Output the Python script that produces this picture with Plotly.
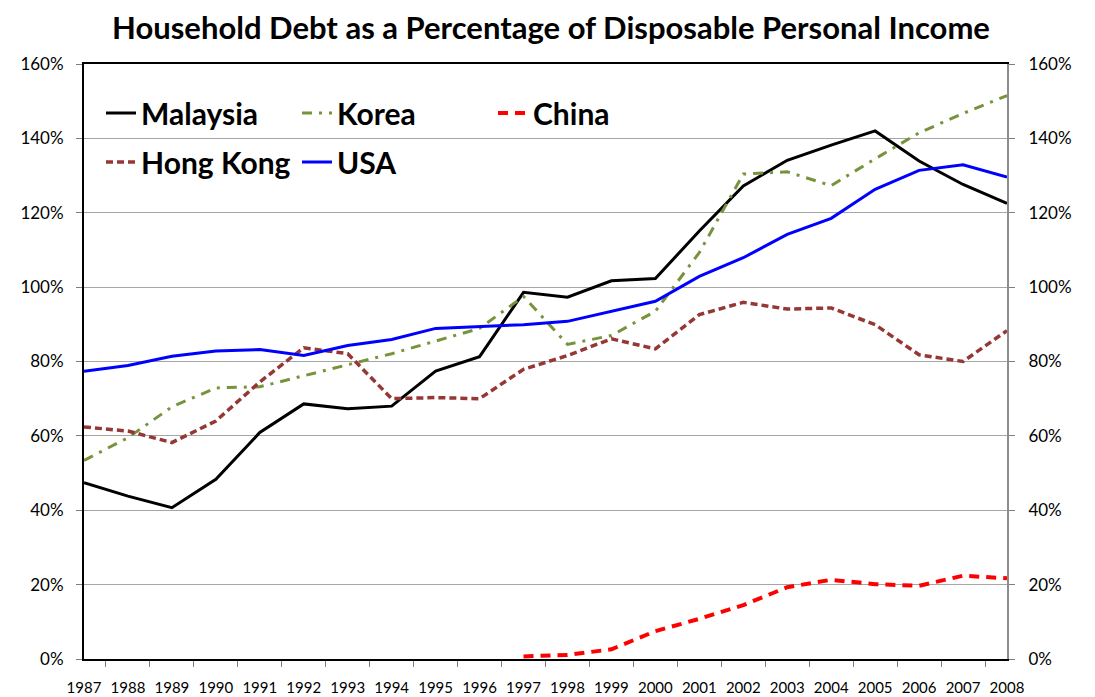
import plotly.graph_objects as go

years = [str(y) for y in range(1987, 2009)]

malaysia = [47.4, 43.8, 40.7, 48.3, 60.9, 68.6, 67.3, 68.0, 77.4, 81.3, 98.6, 97.3,
            101.7, 102.3, 115.1, 127.2, 134.1, 138.2, 142.0, 133.9, 127.6, 122.5]
korea = [53.4, 59.5, 67.8, 72.9, 73.2, 76.2, 79.2, 82.1, 85.5, 88.9, 97.5, 84.6,
         87.0, 93.5, 109.3, 130.4, 131.0, 127.3, 134.5, 141.5, 146.7, 151.5]
china = [None] * 10 + [0.7, 1.1, 2.6, 7.5, 10.8, 14.5, 19.3, 21.3, 20.1, 19.7, 22.4, 21.7]
hong_kong = [62.4, 61.3, 58.2, 64.0, 74.5, 83.7, 82.1, 70.0, 70.3, 70.0, 77.9, 81.6,
             86.1, 83.4, 92.6, 95.9, 94.1, 94.4, 89.9, 81.8, 80.0, 88.3]
usa = [77.4, 78.9, 81.4, 82.8, 83.2, 81.6, 84.3, 85.9, 88.9, 89.5, 89.9, 90.8,
       93.5, 96.2, 102.9, 107.9, 114.2, 118.5, 126.3, 131.4, 132.9, 129.6]

y_ticks = [0, 20, 40, 60, 80, 100, 120, 140, 160]
y_labels = [f"{v}%" for v in y_ticks]
title_text = "Household Debt as a Percentage of Disposable Personal Income"

# page has an 8px body margin: figure coordinates = screen coordinates - 8
OFF = 8
W, H = 1095 - OFF, 697 - OFF
L, R, T, B = 84 - OFF, 88, 64 - OFF, 38
FONT = "Lato"

fig = go.Figure()

def add(name, vals, color, width, dash, legend):
    fig.add_trace(go.Scatter(
        x=years, y=vals, name=name, mode="lines",
        line=dict(color=color, width=width, dash=dash),
        legend=legend, connectgaps=False,
    ))

add("Malaysia", malaysia, "#000000", 3, "solid", "legend")
add("Korea", korea, "#77933C", 3, "10px,7px,3px,7px", "legend")
add("China", china, "#FF0000", 4, "10px,7px", "legend")
add("Hong Kong", hong_kong, "#953735", 3.5, "7px,4px", "legend2")
add("USA", usa, "#0000FF", 3, "solid", "legend2")

# invisible trace for right axis
fig.add_trace(go.Scatter(x=years, y=usa, yaxis="y2", mode="lines",
                         line=dict(width=0), opacity=0, showlegend=False,
                         hoverinfo="skip"))

def py(ypix):  # screen y -> paper
    return 1 - (ypix - OFF - T) / (H - T - B)

def px(xpix):  # screen x -> paper
    return (xpix - OFF - L) / (W - L - R)

legend_common = dict(
    orientation="h", bgcolor="rgba(0,0,0,0)", borderwidth=0,
    font=dict(family=FONT, size=30, color="#000000", weight="bold"),
    entrywidth=151, entrywidthmode="pixels",
    xanchor="left", yanchor="middle", itemwidth=30,
    tracegroupgap=0,
)

fig.update_layout(
    width=W, height=H,
    margin=dict(l=L, r=R, t=T, b=B, autoexpand=False),
    paper_bgcolor="white", plot_bgcolor="white",
    title=dict(text=title_text, x=(551 - OFF) / W, xref="container", xanchor="center",
               y=1 - (28 - OFF) / H, yref="container", yanchor="middle",
               font=dict(family=FONT, size=31, color="#000000", weight="bold"),
               automargin=False),
    xaxis=dict(
        type="category", categoryorder="array", categoryarray=years,
        showline=True, linecolor="#000000", linewidth=2, mirror=True,
        ticks="outside", tickson="boundaries", ticklen=6, tickcolor="#808080",
        tickfont=dict(family=FONT, size=15, color="#000000"), tickangle=0,
        ticklabelstandoff=14, showgrid=False, zeroline=False, automargin=False,
    ),
    yaxis=dict(
        range=[0, 160], tickvals=y_ticks, ticktext=y_labels,
        showline=True, linecolor="#000000", linewidth=2,
        ticks="outside", ticklen=6, tickcolor="#808080",
        tickfont=dict(family=FONT, size=17, color="#000000"),
        ticklabelstandoff=9, automargin=False,
        showgrid=True, gridcolor="#A6A6A6", gridwidth=1, zeroline=False,
    ),
    yaxis2=dict(
        range=[0, 160], tickvals=y_ticks, ticktext=y_labels,
        overlaying="y", side="right",
        showline=True, linecolor="#8C8C8C", linewidth=2,
        ticks="outside", ticklen=6, tickcolor="#808080",
        tickfont=dict(family=FONT, size=17, color="#000000"),
        ticklabelstandoff=10, showgrid=False, zeroline=False, automargin=False,
    ),
    legend=dict(x=px(101), y=py(113), **legend_common),
    legend2=dict(x=px(101), y=py(162), **legend_common),
    hovermode=False,
)

fig.write_html("out.html")
